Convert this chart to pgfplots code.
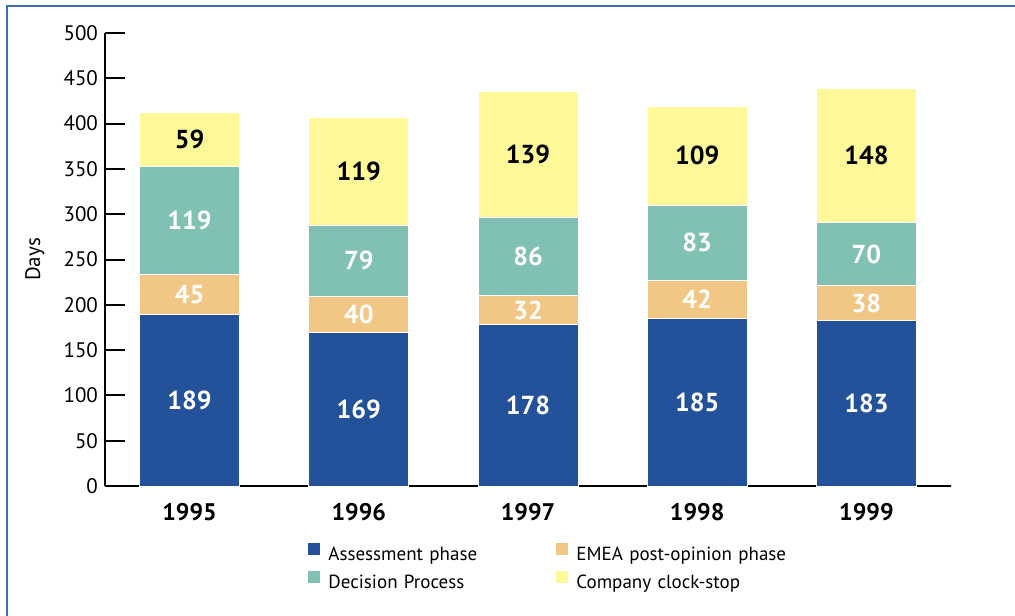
\documentclass[border=0pt]{standalone}
\usepackage{pgfplots}
\usepackage{pgfplotstable}
\pgfplotsset{compat=1.18}
\usepackage{fontspec}
\setmainfont{PT Sans}
\definecolor{assess}{HTML}{23519A}
\definecolor{emea}{HTML}{F1C785}
\definecolor{decis}{HTML}{80C1B4}
\definecolor{clock}{HTML}{FFF899}
\definecolor{framec}{HTML}{3F6DB5}
\pgfplotstableread{
x assess emea decis clock
0 189 45 119 59
1 169 40 79 119
2 178 32 86 139
3 185 42 83 109
4 183 38 70 148
}\days
\pgfplotsset{sq legend/.style={legend image code/.code={\fill[##1] (0pt,0pt) rectangle (6.5pt,6.5pt);}}}
\begin{document}
\begin{tikzpicture}
\useasboundingbox (0,0) rectangle (507.5pt,-307.5pt);
\draw[framec, line width=1pt] (3.5pt,-310pt) -- (3.5pt,-3pt) -- (510pt,-3pt);
\begin{axis}[
    at={(52.5pt,-243pt)}, anchor=south west,
    scale only axis, width=423pt, height=226.5pt,
    ybar stacked, bar width=50pt,
    xmin=-0.5, xmax=4.5, ymin=0, ymax=500,
    xtick={0,1,2,3,4}, xticklabels={1995,1996,1997,1998,1999},
    ytick={0,50,...,500},
    axis x line*=bottom, axis y line*=left,
    axis line style={-, line width=1pt},
    tick align=inside, major tick length=10pt,
    ytick style={line width=1pt, black},
    xtick style={draw=none},
    /pgf/number format/assume math mode=true,
    yticklabel style={font=\fontsize{10.5}{12}\selectfont},
    xticklabel style={font=\bfseries\fontsize{12}{14}\selectfont, yshift=-5pt},
    ylabel={Days},
    ylabel style={at={(axis description cs:-0.083,0.5)}, anchor=center, font=\fontsize{10.5}{12}\selectfont},
    point meta=rawy,
    nodes near coords,
    every node near coord/.append style={anchor=center, font=\bfseries\fontsize{13}{15}\selectfont},
    legend columns=2,
    legend cell align=left,
    legend style={at={(axis description cs:0.2388,-0.1214)}, anchor=north west,
        draw=none, fill=none, inner sep=0pt, column sep=1.5pt, row sep=0pt,
        font=\fontsize{9.5}{11}\selectfont,
        nodes={text width=110pt, inner xsep=2pt, inner ysep=2pt, text height=7.5pt, text depth=2.5pt}},
]
\addplot[fill=assess, draw=white, line width=0.5pt, sq legend, nodes near coords style={text=white}]
    table[x=x, y=assess] {\days};
\addplot[fill=emea, draw=white, line width=0.5pt, sq legend, nodes near coords style={text=white}]
    table[x=x, y=emea] {\days};
\addplot[fill=decis, draw=white, line width=0.5pt, sq legend, nodes near coords style={text=white}]
    table[x=x, y=decis] {\days};
\addplot[fill=clock, draw=white, line width=0.5pt, sq legend, nodes near coords style={text=black}]
    table[x=x, y=clock] {\days};
\legend{Assessment phase, EMEA post-opinion phase, Decision Process, Company clock-stop}
\draw[line width=1pt] (rel axis cs:1,0) -- ++(0,4pt);
\end{axis}
\end{tikzpicture}
\end{document}
